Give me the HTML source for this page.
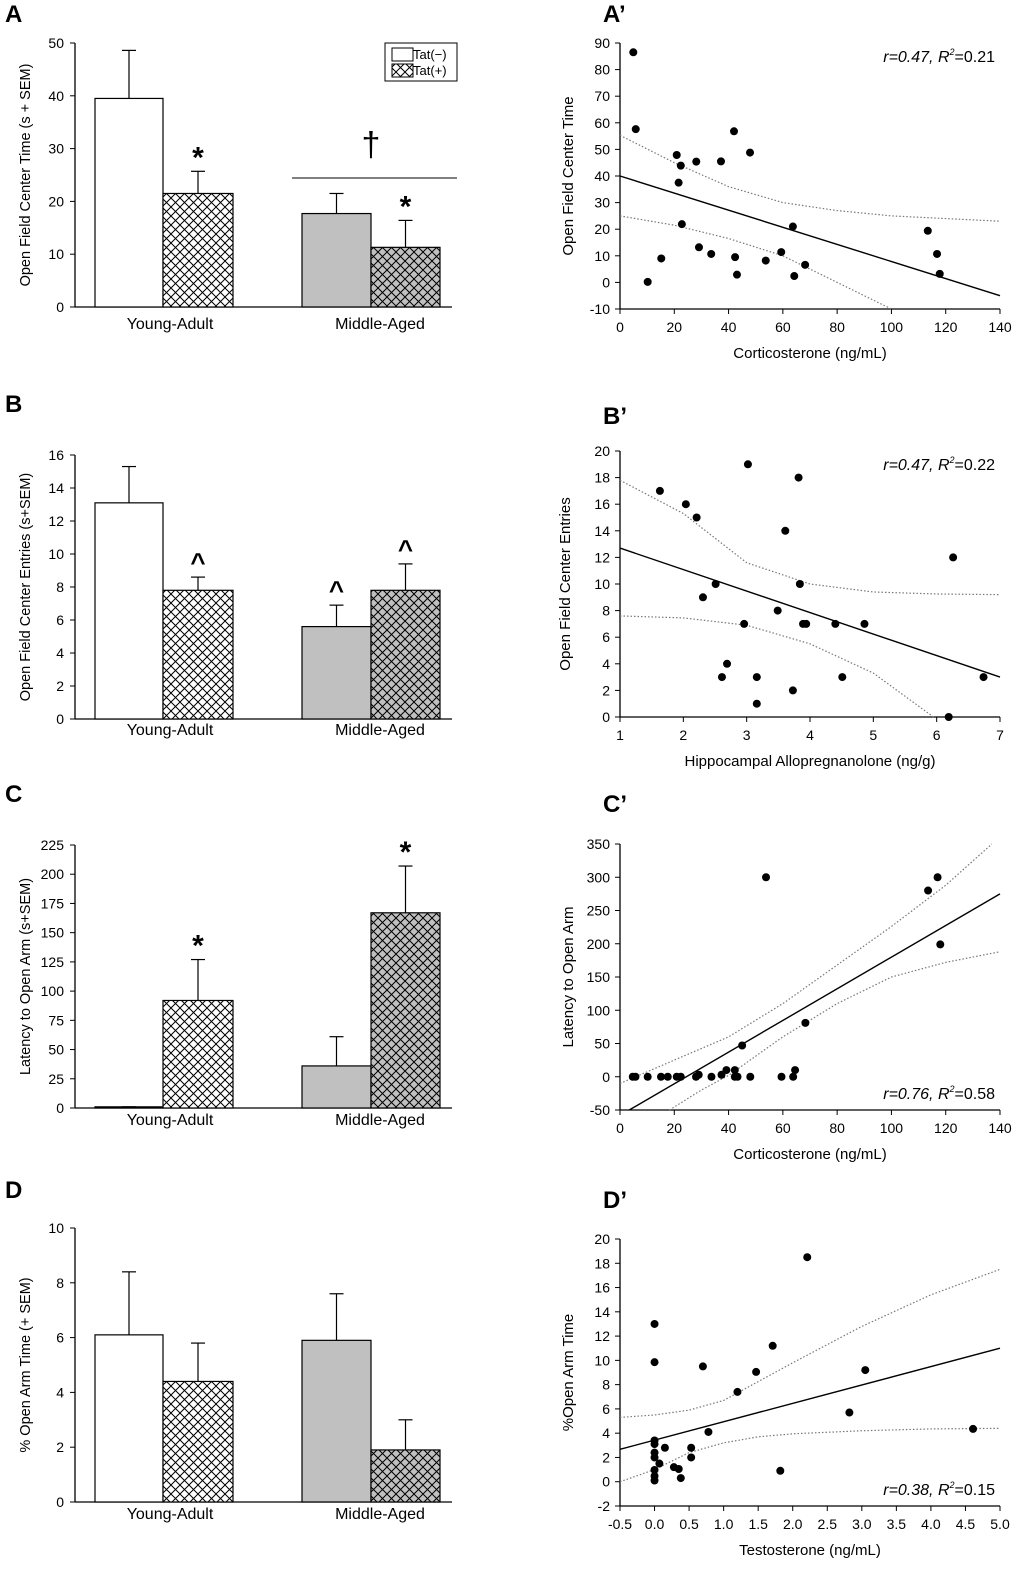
<!DOCTYPE html>
<html><head><meta charset="utf-8"><style>
body{margin:0;background:#fff}
svg{display:block;font-family:"Liberation Sans",sans-serif}
</style></head><body>
<svg id="fig" width="1020" height="1570" viewBox="0 0 1020 1570">
<defs>
<pattern id="hatchW" patternUnits="userSpaceOnUse" width="9" height="9"><rect width="9" height="9" fill="#fff"/><path d="M0,0L9,9M9,0L0,9" stroke="#000" stroke-width="1"/></pattern>
<pattern id="hatchG" patternUnits="userSpaceOnUse" width="9" height="9"><rect width="9" height="9" fill="#c0c0c0"/><path d="M0,0L9,9M9,0L0,9" stroke="#000" stroke-width="1"/></pattern>
</defs>
</svg>
<script>
// ---- Bar chart data ----
const groups = ["Young-Adult","Middle-Aged"];
const barA = [39.5,21.5,17.7,11.3], errA = [48.6,25.7,21.5,16.4];
const barB = [13.1,7.8,5.6,7.8], errB = [15.3,8.6,6.9,9.4];
const barC = [1,92,36,167], errC = [1,127,61,207];
const barD = [6.1,4.4,5.9,1.9], errD = [8.4,5.8,7.6,3.0];
const markA = ["","*","","*"], markB = ["","^","^","^"], markC = ["","*","","*"], markD = ["","","",""];
const ticksA = [0,10,20,30,40,50], ticksB = [0,2,4,6,8,10,12,14,16], ticksC = [0,25,50,75,100,125,150,175,200,225], ticksD = [0,2,4,6,8,10];
// ---- Scatter data ----
const apX = [4.9,5.8,10.2,15.2,20.9,22.4,21.6,22.8,28.1,29.1,33.6,37.2,42.0,42.4,43.1,47.9,53.7,59.4,63.7,64.2,68.2,113.4,116.8,117.8];
const apY = [86.5,57.6,0.2,9.0,47.9,43.9,37.5,21.9,45.4,13.2,10.7,45.5,56.8,9.5,2.9,48.8,8.2,11.4,21.0,2.4,6.6,19.4,10.7,3.2];
const apFitX = [0,140], apFitY = [40,-5];
const apCiX = [0,20,40,60,80,100,120,140], apCiU = [55.3,45,36,30,27,25,24,23];
const apCiLX = [0,20,40,60,80,100], apCiL = [25,21.5,16.5,10,0,-10];
const bpX = [1.63,2.04,2.21,2.51,2.31,3.02,3.61,3.82,3.84,3.49,2.96,3.89,3.94,4.40,4.86,2.69,2.61,3.16,3.16,3.73,4.51,6.26,6.19,6.74];
const bpY = [17,16,15,10,9,19,14,18,10,8,7,7,7,7,7,4,3,3,1,2,3,12,0,3];
const bpFitX = [1,7], bpFitY = [12.7,3.0];
const bpCiX = [1,2,3,4,5,6,7], bpCiU = [17.8,15.3,11.6,10.0,9.4,9.25,9.2];
const bpCiLX = [1,2,3,4,5,5.95], bpCiL = [7.6,7.45,6.9,5.5,3.3,0];
const cpX = [4.7,5.7,10.2,15.1,17.6,20.9,22.4,28.0,29.0,33.7,37.4,39.2,42.3,42.3,43.3,48.0,59.5,63.8,64.5,45.0,68.3,53.8,113.5,117.0,118.0];
const cpY = [0,0,0,0,0,0,0,0,3,0,3,10,10,0,0,0,0,0,10,47,81,300,280,300,199];
const cpFitX = [3.4,140], cpFitY = [-50,275];
const cpCiX = [0,20,40,60,80,100,120,137], cpCiU = [-10,25,60,110,168,226,288,350];
const cpCiLX = [18.2,30,40,60,80,100,120,140], cpCiL = [-50,-20,2,60,110,150,172,188];
const dpX = [0,0,0,0,0,0,0,0,0,0.15,0.07,0.28,0.35,0.38,0.53,0.53,0.70,0.78,1.20,1.47,1.71,1.82,2.21,2.82,3.05,4.61];
const dpY = [13,9.85,3.4,3.1,2.4,2.0,0.97,0.47,0.1,2.8,1.5,1.2,1.05,0.3,2.8,2.0,9.5,4.1,7.4,9.05,11.2,0.9,18.5,5.7,9.2,4.35];
const dpFitX = [-0.5,5], dpFitY = [2.67,11.0];
const dpCiX = [-0.5,0,0.5,1,1.5,2,3,4,5], dpCiU = [5.3,5.5,5.9,6.7,8.25,9.8,12.8,15.4,17.5];
const dpCiLX = [-0.5,0,0.5,1,1.5,2,3,4,5], dpCiL = [0,1.0,2.4,3.2,3.7,3.95,4.2,4.35,4.4];

const svg = document.getElementById('fig');
const NS = "http://www.w3.org/2000/svg";
function mk(tag, attrs, parent){const e=document.createElementNS(NS,tag);for(const k in attrs)e.setAttribute(k,attrs[k]);(parent||svg).appendChild(e);return e;}
function txt(s,x,y,attrs,parent){const e=mk('text',Object.assign({x:x,y:y},attrs||{}),parent);e.textContent=s;return e;}

function barPanel(name,letter,ly,vals,errs,marks,ticks,y0,y1,ymax,title,lblY){
  const g=mk('g',{});
  
  
  const ys=v=>y0-(v/ymax)*(y0-y1);
  const L=txt(letter,5,ly,{'font-size':24,'font-weight':'bold'},g);
  
  
  const ax=mk('line',{x1:75,y1:y1,x2:75,y2:y0,stroke:'#000','stroke-width':1.3},g);
  
  
  const xa=mk('line',{x1:75,y1:y0,x2:452,y2:y0,stroke:'#000','stroke-width':1.3},g);
  
  
  ticks.forEach(t=>{
    mk('line',{x1:70,y1:ys(t),x2:75,y2:ys(t),stroke:'#000'},g);
    const tl=txt(String(t),64,ys(t)+5,{'font-size':14,'text-anchor':'end'},g);
    
    
  });
  const yt=txt(title,0,0,{'font-size':14.5,'text-anchor':'middle',transform:`translate(30,${(y0+y1)/2}) rotate(-90)`},g);
  
  
  const bx=[95,163,302,371], bw=[68,70,69,69];
  const fills=['#fff','url(#hatchW)','#c0c0c0','url(#hatchG)'];
  vals.forEach((v,i)=>{
    const cx=bx[i]+bw[i]/2;
    const e=mk('line',{x1:cx,y1:ys(errs[i]),x2:cx,y2:ys(v),stroke:'#000','stroke-width':1.2},g);
    
    
    mk('line',{x1:cx-7,y1:ys(errs[i]),x2:cx+7,y2:ys(errs[i]),stroke:'#000','stroke-width':1.2},g);
    const r=mk('rect',{x:bx[i],y:ys(v),width:bw[i],height:y0-ys(v),fill:fills[i],stroke:'#000','stroke-width':1.2},g);
    
    
    if(marks[i]){
      const m=txt(marks[i],cx,ys(errs[i])-(marks[i]=='*'?4:6),{'font-size':marks[i]=='*'?30:26,'text-anchor':'middle','font-weight':'bold'},g);
      
      
    }
  });
  groups.forEach((s,i)=>{
    const c=txt(s,i?380:170,lblY,{'font-size':16,'text-anchor':'middle'},g);
    
    
  });
  return {g,ys};
}

barPanel('panel-a','A',22,barA,errA,markA,ticksA,307,43,50,'Open Field Center Time (s + SEM)',329);
barPanel('panel-b','B',412,barB,errB,markB,ticksB,719,455,16,'Open Field Center Entries (s+SEM)',735);
barPanel('panel-c','C',802,barC,errC,markC,ticksC,1108,845,225,'Latency to Open Arm (s+SEM)',1125);
barPanel('panel-d','D',1198,barD,errD,markD,ticksD,1502,1228,10,'% Open Arm Time (+ SEM)',1519);

// legend & dagger in panel A
const lg=mk('g',{});


mk('rect',{x:385,y:43,width:72,height:38,fill:'#fff',stroke:'#000'},lg);
mk('rect',{x:392,y:48,width:21,height:13,fill:'#fff',stroke:'#000'},lg);
mk('rect',{x:392,y:64,width:21,height:13,fill:'url(#hatchW)',stroke:'#000'},lg);
const l1=txt('Tat(\u2212)',413,59,{'font-size':13},lg);


const l2=txt('Tat(+)',413,75,{'font-size':13},lg);


const dg=txt('\u2020',371,156,{'font-size':34,'text-anchor':'middle'});


const dl=mk('line',{x1:292,y1:178,x2:457,y2:178,stroke:'#000','stroke-width':1});



function fmt(v,dec){return dec?v.toFixed(dec):String(v);}
function scatterPanel(name,letter,ly,xs,ys_,fitX,fitY,ciX,ciU,ciLX,ciL,xmin,xmax,ymin,ymax,y0,y1,xticks,yticks,xdec,xtitle,ytitle,ytx,ann,annY){
  const g=mk('g',{});
  
  
  const X=v=>620+(v-xmin)/(xmax-xmin)*380;
  const Y=v=>y0-(v-ymin)/(ymax-ymin)*(y0-y1);
  const L=txt(letter,603,ly,{'font-size':24,'font-weight':'bold'},g);
  
  
  const ya=mk('line',{x1:620,y1:y1,x2:620,y2:y0,stroke:'#000','stroke-width':1.3},g);
  
  
  const xa=mk('line',{x1:620,y1:y0,x2:1000,y2:y0,stroke:'#000','stroke-width':1.3},g);
  
  
  yticks.forEach(t=>{
    mk('line',{x1:615,y1:Y(t),x2:620,y2:Y(t),stroke:'#000'},g);
    const tl=txt(String(t),610,Y(t)+5,{'font-size':14,'text-anchor':'end'},g);
    
    
  });
  xticks.forEach(t=>{
    mk('line',{x1:X(t),y1:y0,x2:X(t),y2:y0+5,stroke:'#000'},g);
    const tl=txt(fmt(t,xdec),X(t),y0+23,{'font-size':14,'text-anchor':'middle'},g);
    
    
  });
  const xt=txt(xtitle,810,y0+49,{'font-size':15,'text-anchor':'middle'},g);
  
  
  const yt=txt(ytitle,0,0,{'font-size':15,'text-anchor':'middle',transform:`translate(${ytx},${(y0+y1)/2}) rotate(-90)`},g);
  
  
  const pu=mk('polyline',{points:ciX.map((x,i)=>X(x)+','+Y(ciU[i])).join(' '),fill:'none',stroke:'#777','stroke-width':1.2,'stroke-dasharray':'1.5,2'},g);
  
  
  const pl=mk('polyline',{points:ciLX.map((x,i)=>X(x)+','+Y(ciL[i])).join(' '),fill:'none',stroke:'#777','stroke-width':1.2,'stroke-dasharray':'1.5,2'},g);
  
  
  const fl=mk('line',{x1:X(fitX[0]),y1:Y(fitY[0]),x2:X(fitX[1]),y2:Y(fitY[1]),stroke:'#000','stroke-width':1.4},g);
  
  
  xs.forEach((x,i)=>{
    const c=mk('circle',{cx:X(x),cy:Y(ys_[i]),r:4,fill:'#000'},g);
    
    
  });
  const a=mk('text',{x:995,y:annY,'font-size':16,'text-anchor':'end'},g);
  
  
  a.innerHTML='<tspan font-style="italic">r='+ann[0]+', R</tspan><tspan font-size="9" dy="-7" font-style="italic">2</tspan><tspan dy="7">='+ann[1]+'</tspan>';
}
scatterPanel('panel-a-prime','A\u2019',22,apX,apY,apFitX,apFitY,apCiX,apCiU,apCiLX,apCiL,0,140,-10,90,309,43,[0,20,40,60,80,100,120,140],[-10,0,10,20,30,40,50,60,70,80,90],0,'Corticosterone (ng/mL)','Open Field Center Time',573,['0.47','0.21'],62);
scatterPanel('panel-b-prime','B\u2019',424,bpX,bpY,bpFitX,bpFitY,bpCiX,bpCiU,bpCiLX,bpCiL,1,7,0,20,717,451,[1,2,3,4,5,6,7],[0,2,4,6,8,10,12,14,16,18,20],0,'Hippocampal Allopregnanolone (ng/g)','Open Field Center Entries',570,['0.47','0.22'],470);
scatterPanel('panel-c-prime','C\u2019',812,cpX,cpY,cpFitX,cpFitY,cpCiX,cpCiU,cpCiLX,cpCiL,0,140,-50,350,1110,844,[0,20,40,60,80,100,120,140],[-50,0,50,100,150,200,250,300,350],0,'Corticosterone (ng/mL)','Latency to Open Arm',573,['0.76','0.58'],1099);
scatterPanel('panel-d-prime','D\u2019',1208,dpX,dpY,dpFitX,dpFitY,dpCiX,dpCiU,dpCiLX,dpCiL,-0.5,5,-2,20,1506,1239,[-0.5,0,0.5,1,1.5,2,2.5,3,3.5,4,4.5,5],[-2,0,2,4,6,8,10,12,14,16,18,20],1,'Testosterone (ng/mL)','%Open Arm Time',573,['0.38','0.15'],1495);
</script>
</body></html>
